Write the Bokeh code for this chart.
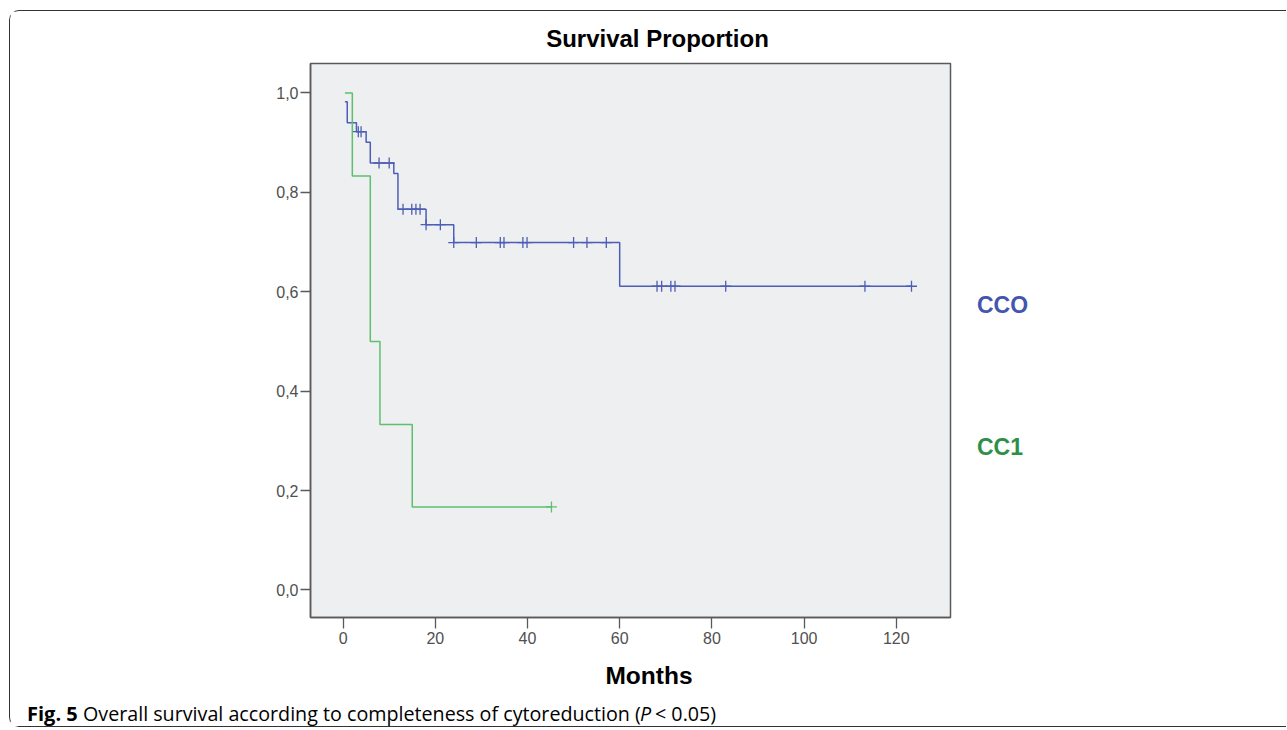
import numpy as np
from bokeh.plotting import figure
from bokeh.models import (Range1d, FixedTicker, CustomJSTickFormatter, Label,
                          ColumnDataSource)
from bokeh.embed import file_html
from bokeh.resources import INLINE

# ---- data ----
# CC0 (blue) step curve: step start times and survival after each step
cc0_time = [0.4, 0.9, 2.9, 5.0, 5.9, 11.0, 11.9, 18.0, 24.0, 60.0, 123.3]
cc0_surv = [0.982, 0.940, 0.922, 0.901, 0.859, 0.838, 0.766, 0.735, 0.699, 0.611, 0.611]
# CC0 censored observations (months)
cc0_cens = [3.3, 3.9, 7.8, 10.0, 13.0, 14.9, 15.8, 16.7, 18.0, 21.1,
            24.0, 28.9, 34.1, 34.9, 39.0, 39.9, 50.0, 52.9, 57.1,
            68.1, 69.1, 71.1, 72.0, 83.0, 113.2, 123.3]

# CC1 (green) step curve
cc1_time = [0.4, 2.0, 5.9, 8.0, 15.0, 45.2]
cc1_surv = [1.0, 0.833, 0.5, 0.333, 0.167, 0.167]
cc1_cens = [45.2]

x_ticks = [0, 20, 40, 60, 80, 100, 120]
y_ticks = [0.0, 0.2, 0.4, 0.6, 0.8, 1.0]

group_names = ["CCO", "CC1"]
title_text = "Survival Proportion"
x_label = "Months"
caption_bold = "Fig. 5"
caption_text = "Overall survival according to completeness of cytoreduction ("
caption_italic = "P"
caption_tail = "< 0.05)"

BLUE = "#4d5eb6"
GREEN = "#5ec06e"
BLUE_TXT = "#4455b0"
GREEN_TXT = "#2e8f48"
AXIS = "#5a5a5a"
FRAME_BORDER = "1.5px solid #333333"


def surv_at(times, survs, t):
    i = np.searchsorted(np.array(times), t, side="right") - 1
    i = max(i, 0)
    return survs[i]


p = figure(frame_width=640, frame_height=554,
           min_border_left=300, min_border_top=52,
           min_border_right=336, min_border_bottom=109,
           x_range=Range1d(-7.07, 131.76), y_range=Range1d(-0.0554, 1.0592),
           output_backend="svg", toolbar_location=None,
           background_fill_color="#eeeff0", border_fill_color="white")
p.margin = (10, 0, 0, 9)
p.styles = {"border-top": FRAME_BORDER, "border-left": FRAME_BORDER,
            "border-bottom": FRAME_BORDER,
            "border-top-left-radius": "10px", "border-bottom-left-radius": "10px"}

p.xgrid.visible = False
p.ygrid.visible = False
p.outline_line_color = AXIS
p.outline_line_width = 1.5

for ax in (p.xaxis[0], p.yaxis[0]):
    ax.axis_line_color = AXIS
    ax.axis_line_width = 1.5
    ax.major_tick_line_color = AXIS
    ax.major_tick_line_width = 1.3
    ax.major_tick_in = 0
    ax.minor_tick_line_color = None
    ax.major_label_text_font = "Liberation Sans"
    ax.major_label_text_font_size = "16px"
    ax.major_label_text_color = "#505050"

p.xaxis.ticker = FixedTicker(ticks=x_ticks)
p.xaxis.major_tick_out = 11
p.xaxis.major_label_standoff = 3
p.yaxis.ticker = FixedTicker(ticks=y_ticks)
p.yaxis.major_tick_out = 10
p.yaxis.major_label_standoff = 2
p.yaxis.formatter = CustomJSTickFormatter(code="return tick.toFixed(1).replace('.', ',');")

# curves
src0 = ColumnDataSource(dict(t=cc0_time, s=cc0_surv))
src1 = ColumnDataSource(dict(t=cc1_time, s=cc1_surv))
p.step(x="t", y="s", source=src0, mode="after", line_color=BLUE, line_width=1.5)
p.step(x="t", y="s", source=src1, mode="after", line_color=GREEN, line_width=1.5)

c0y = [surv_at(cc0_time, cc0_surv, t) for t in cc0_cens]
c1y = [surv_at(cc1_time, cc1_surv, t) for t in cc1_cens]
p.scatter(x=cc0_cens, y=c0y, marker="cross", size=11, line_color=BLUE, line_width=1.3)
p.scatter(x=cc1_cens, y=c1y, marker="cross", size=11, line_color=GREEN, line_width=1.3)


# texts: placed in side panels (not clipped), canvas coordinates
def add_label(side, x, y, text, size, color="black", style="normal", align="left",
              font="Liberation Sans"):
    p.add_layout(Label(x=x, y=y, x_units="canvas", y_units="canvas", text=text,
                       text_font=font, text_font_size=size,
                       text_font_style=style, text_color=color,
                       text_align=align, text_baseline="middle"), side)


add_label("above", 646, 26, title_text, "24px", style="bold", align="center")
add_label("below", 637.5, 662.5, x_label, "24.5px", style="bold", align="center")
add_label("right", 965.5, 292.5, group_names[0], "23px", color=BLUE_TXT, style="bold")
add_label("right", 965.5, 434.5, group_names[1], "23px", color=GREEN_TXT, style="bold")

cap_y = 700.5
add_label("right", 15.5, cap_y, caption_bold, "20px", style="bold", font="Open Sans")
add_label("below", 71.5, cap_y, caption_text, "19.7px", font="Open Sans")
add_label("right", 628.5, cap_y, caption_italic, "19.7px", style="italic", font="Open Sans")
add_label("right", 643.5, cap_y, caption_tail, "19.7px", font="Open Sans")

open("out.html", "w").write(file_html(p, INLINE))
